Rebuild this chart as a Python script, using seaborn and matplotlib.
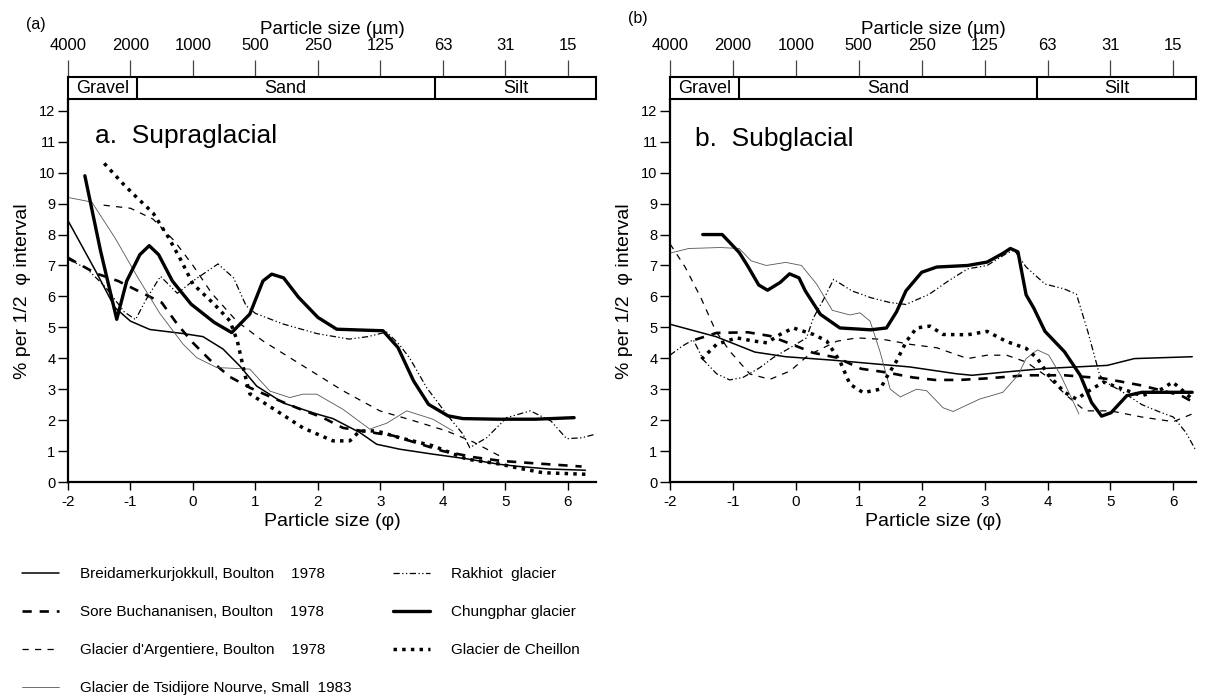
import numpy as np
import pandas as pd
import seaborn as sns
import matplotlib.pyplot as plt

sns.set_style('ticks')
plt.rcParams['font.family'] = ['Liberation Sans', 'DejaVu Sans']
plt.rcParams['axes.unicode_minus'] = False
for key in ['text.color', 'axes.labelcolor', 'xtick.color', 'ytick.color', 'axes.edgecolor']:
    plt.rcParams[key] = 'black'

# ---- shared scales ----
phi_ticks = [-2, -1, 0, 1, 2, 3, 4, 5, 6]
um_labels = ['4000', '2000', '1000', '500', '250', '125', '63', '31', '15']
y_ticks = list(range(0, 13))
classes = ['Gravel', 'Sand', 'Silt']
bounds_a = [-0.9, 3.87]
bounds_b = [-0.91, 3.84]

labels = ['Breidamerkurjokkull, Boulton    1978',
          'Sore Buchananisen, Boulton    1978',
          "Glacier d'Argentiere, Boulton    1978",
          'Glacier de Tsidijore Nourve, Small  1983',
          'Rakhiot  glacier',
          'Chungphar glacier',
          'Glacier de Cheillon']

# ---- (a) supraglacial ----
breida_a_x = [-2.0, -1.56, -1.25, -1.0, -0.69, -0.16, 0.16, 0.48, 0.75, 1.02, 1.45, 1.98, 2.24, 2.67, 2.94, 3.31, 3.84, 4.38, 4.91, 5.23, 5.7, 6.28]
breida_a_y = [8.45, 6.83, 5.64, 5.2, 4.93, 4.8, 4.7, 4.3, 3.75, 3.1, 2.55, 2.2, 2.05, 1.6, 1.22, 1.06, 0.9, 0.75, 0.57, 0.5, 0.42, 0.38]

sore_a_x = [-2.0, -1.56, -1.2, -0.9, -0.5, -0.25, 0.0, 0.27, 0.59, 0.91, 1.3, 1.66, 2.08, 2.4, 2.8, 3.2, 3.6, 4.0, 4.5, 4.94, 5.5, 6.22]
sore_a_y = [7.25, 6.75, 6.5, 6.2, 5.8, 5.1, 4.5, 3.95, 3.4, 3.05, 2.7, 2.4, 2.08, 1.75, 1.62, 1.5, 1.25, 1.0, 0.8, 0.68, 0.6, 0.5]

arg_a_x = [-1.43, -1.0, -0.64, -0.3, 0.0, 0.3, 0.7, 1.12, 1.55, 1.98, 2.4, 2.99, 3.5, 4.06, 4.48, 4.91]
arg_a_y = [8.95, 8.85, 8.5, 7.8, 7.0, 6.1, 5.2, 4.56, 4.02, 3.48, 2.95, 2.3, 2.0, 1.65, 1.3, 0.84]

tsid_a_x = [-2.0, -1.62, -1.25, -0.88, -0.53, -0.16, 0.06, 0.38, 0.91, 1.23, 1.55, 1.76, 1.98, 2.4, 2.83, 3.1, 3.42, 3.84, 4.16]
tsid_a_y = [9.2, 9.05, 7.9, 6.6, 5.45, 4.46, 4.02, 3.7, 3.65, 2.94, 2.73, 2.84, 2.84, 2.35, 1.71, 1.9, 2.3, 2.03, 1.65]

rakh_a_x = [-2.0, -1.7, -1.4, -1.1, -0.92, -0.75, -0.52, -0.25, 0.0, 0.4, 0.65, 0.85, 1.0, 1.44, 1.98, 2.5, 2.8, 3.1, 3.3, 3.47, 3.74, 4.06, 4.32, 4.43, 4.7, 5.02, 5.4, 5.73, 5.98, 6.22, 6.45]
rakh_a_y = [7.2, 6.9, 6.3, 5.5, 5.25, 5.9, 6.65, 6.1, 6.5, 7.05, 6.6, 5.7, 5.45, 5.11, 4.8, 4.62, 4.7, 4.85, 4.45, 4.0, 3.05, 2.19, 1.55, 1.11, 1.43, 2.08, 2.3, 1.97, 1.4, 1.43, 1.55]

chung_a_x = [-1.73, -1.48, -1.22, -1.06, -0.85, -0.7, -0.55, -0.33, -0.03, 0.34, 0.62, 0.91, 1.12, 1.26, 1.45, 1.69, 2.0, 2.3, 2.73, 3.04, 3.28, 3.53, 3.77, 4.08, 4.32, 4.87, 5.48, 6.1]
chung_a_y = [9.9, 7.48, 5.26, 6.5, 7.35, 7.64, 7.35, 6.5, 5.75, 5.16, 4.83, 5.43, 6.5, 6.72, 6.6, 5.97, 5.32, 4.94, 4.91, 4.89, 4.35, 3.27, 2.51, 2.14, 2.05, 2.03, 2.03, 2.08]

cheil_a_x = [-1.42, -1.1, -0.9, -0.64, -0.39, -0.2, 0.0, 0.34, 0.59, 0.71, 0.83, 0.91, 1.34, 1.76, 2.24, 2.51, 2.67, 2.94, 3.31, 3.84, 4.38, 4.91, 5.18, 5.6, 6.28]
cheil_a_y = [10.3, 9.6, 9.2, 8.7, 7.9, 7.2, 6.4, 5.75, 5.21, 4.56, 3.48, 2.85, 2.3, 1.75, 1.33, 1.33, 1.65, 1.65, 1.43, 1.17, 0.74, 0.58, 0.46, 0.3, 0.25]

# ---- (b) subglacial ----
breida_b_x = [-2.0, -1.27, -0.65, -0.16, 0.58, 1.81, 2.55, 2.8, 3.35, 3.96, 4.95, 5.38, 6.3]
breida_b_y = [5.1, 4.7, 4.2, 4.05, 3.94, 3.72, 3.5, 3.45, 3.56, 3.67, 3.77, 3.99, 4.05]

sore_b_x = [-1.6, -1.26, -0.76, -0.41, 0.0, 0.27, 0.65, 1.04, 1.45, 1.86, 2.21, 2.6, 3.04, 3.66, 4.27, 4.89, 5.5, 6.12, 6.3]
sore_b_y = [4.6, 4.82, 4.84, 4.72, 4.4, 4.18, 4.02, 3.66, 3.54, 3.38, 3.3, 3.3, 3.35, 3.45, 3.45, 3.35, 3.12, 2.8, 2.6]

arg_b_x = [-2.0, -1.76, -1.51, -1.27, -1.05, -0.73, -0.41, -0.09, 0.2, 0.65, 0.97, 1.39, 1.82, 2.24, 2.73, 3.04, 3.35, 3.66, 4.0, 4.3, 4.6, 5.0, 5.5, 6.0, 6.3]
arg_b_y = [7.7, 6.95, 5.96, 4.87, 4.23, 3.49, 3.32, 3.59, 4.1, 4.55, 4.66, 4.61, 4.45, 4.34, 3.99, 4.1, 4.1, 3.88, 3.4, 2.8, 2.3, 2.3, 2.1, 1.95, 2.2]

tsid_b_x = [-2.0, -1.7, -1.2, -0.9, -0.71, -0.47, -0.16, 0.09, 0.33, 0.58, 0.86, 1.02, 1.18, 1.34, 1.5, 1.66, 1.92, 2.08, 2.34, 2.5, 2.92, 3.29, 3.53, 3.66, 3.84, 4.02, 4.21, 4.5]
tsid_b_y = [7.4, 7.55, 7.58, 7.55, 7.15, 7.0, 7.1, 7.0, 6.4, 5.55, 5.4, 5.47, 5.2, 4.2, 3.0, 2.75, 3.0, 2.95, 2.4, 2.28, 2.68, 2.9, 3.45, 3.99, 4.27, 4.1, 3.45, 2.2]

rakh_b_x = [-2.0, -1.8, -1.63, -1.47, -1.26, -1.05, -0.84, -0.57, -0.36, -0.09, 0.17, 0.28, 0.44, 0.6, 0.89, 1.19, 1.5, 1.75, 2.12, 2.43, 2.73, 3.04, 3.35, 3.47, 3.66, 3.96, 4.27, 4.46, 4.64, 4.83, 4.95, 5.2, 5.5, 5.8, 6.0, 6.2, 6.35]
rakh_b_y = [4.1, 4.4, 4.6, 3.95, 3.5, 3.3, 3.38, 3.7, 4.02, 4.34, 4.66, 5.31, 5.9, 6.55, 6.18, 5.96, 5.8, 5.74, 6.07, 6.51, 6.89, 7.0, 7.39, 7.5, 6.95, 6.4, 6.24, 6.07, 4.87, 3.45, 3.2, 2.9, 2.5, 2.25, 2.1, 1.6, 1.05]

chung_b_x = [-1.48, -1.17, -0.9, -0.77, -0.59, -0.45, -0.25, -0.1, 0.05, 0.15, 0.39, 0.7, 1.19, 1.44, 1.6, 1.75, 2.0, 2.24, 2.73, 3.04, 3.29, 3.41, 3.53, 3.66, 3.78, 3.96, 4.27, 4.52, 4.7, 4.86, 5.01, 5.26, 5.5, 6.3]
chung_b_y = [8.0, 8.0, 7.42, 7.0, 6.37, 6.2, 6.45, 6.73, 6.6, 6.18, 5.42, 4.98, 4.92, 4.98, 5.5, 6.18, 6.78, 6.95, 7.0, 7.11, 7.39, 7.55, 7.44, 6.05, 5.63, 4.87, 4.21, 3.45, 2.57, 2.13, 2.24, 2.79, 2.9, 2.9]

cheil_b_x = [-1.5, -1.26, -0.94, -0.68, -0.46, -0.25, -0.04, 0.28, 0.49, 0.7, 0.86, 1.07, 1.34, 1.44, 1.6, 1.76, 1.92, 2.13, 2.34, 2.73, 3.04, 3.35, 3.66, 3.84, 4.02, 4.27, 4.46, 4.7, 4.89, 5.2, 5.5, 5.81, 5.99, 6.18, 6.3]
cheil_b_y = [3.97, 4.45, 4.66, 4.56, 4.5, 4.77, 4.98, 4.77, 4.56, 3.91, 3.16, 2.89, 3.0, 3.38, 3.91, 4.56, 4.98, 5.04, 4.77, 4.76, 4.87, 4.54, 4.32, 3.99, 3.45, 2.9, 2.68, 3.0, 3.23, 3.0, 2.79, 3.0, 3.23, 2.9, 2.68]

# line styles for the seven records (same order as labels)
styles = [
    dict(color='black', lw=1.1, ls='-'),
    dict(color='black', lw=1.9, ls=(0, (3.5, 3))),
    dict(color='black', lw=0.9, ls=(0, (5, 5))),
    dict(color='#555555', lw=0.6, ls='-'),
    dict(color='black', lw=0.9, ls=(0, (5, 2, 1, 2, 1, 2))),
    dict(color='black', lw=2.4, ls='-'),
    dict(color='black', lw=2.5, ls=(0, (1.0, 1.5))),
]

series_a = [(breida_a_x, breida_a_y), (sore_a_x, sore_a_y), (arg_a_x, arg_a_y),
            (tsid_a_x, tsid_a_y), (rakh_a_x, rakh_a_y), (chung_a_x, chung_a_y),
            (cheil_a_x, cheil_a_y)]
series_b = [(breida_b_x, breida_b_y), (sore_b_x, sore_b_y), (arg_b_x, arg_b_y),
            (tsid_b_x, tsid_b_y), (rakh_b_x, rakh_b_y), (chung_b_x, chung_b_y),
            (cheil_b_x, cheil_b_y)]

W, H = 1207, 695
fig = plt.figure(figsize=(W / 100, H / 100), dpi=100)


def px_axes(left, right, top, bottom):
    return fig.add_axes([left / W, 1 - bottom / H, (right - left) / W, (bottom - top) / H])


def draw_panel(left, right, x_max, bounds, series, title, tag, tag_y, title_x, title_y, xlabel):
    ax = px_axes(left, right, 100, 482)
    for (xs, ys), lab, st in zip(series, labels, styles):
        df = pd.DataFrame({'phi': xs, 'pct': ys})
        sns.lineplot(data=df, x='phi', y='pct', ax=ax, sort=False, estimator=None,
                     legend=False, label=lab, color=st['color'], linewidth=st['lw'],
                     linestyle=st['ls'])
    ax.set_xlim(-2, x_max)
    ax.set_ylim(0, 12.35)
    ax.set_xticks(phi_ticks)
    ax.set_xticklabels([str(t) for t in phi_ticks])
    ax.set_yticks(y_ticks)
    ax.tick_params(axis='x', length=5.5, width=1, pad=4, labelsize=11)
    ax.tick_params(axis='y', length=7, width=1, pad=2, labelsize=10.5)
    ax.set_xlabel(xlabel, fontsize=14, labelpad=3)
    ax.set_ylabel('% per 1/2  φ interval', fontsize=14, labelpad=6)
    sns.despine(ax=ax)
    for s in ['left', 'bottom']:
        ax.spines[s].set_linewidth(1.6)
    ax.text(title_x, title_y, title, fontsize=19, ha='left', va='center')

    # grain-size class box with micrometre scale on top
    bx = px_axes(left, right, 77, 99)
    bx.set_xlim(-2, x_max)
    bx.set_ylim(0, 1)
    bx.set_yticks([])
    bx.xaxis.tick_top()
    bx.xaxis.set_label_position('top')
    bx.set_xticks(phi_ticks)
    bx.set_xticklabels(um_labels)
    bx.tick_params(axis='x', direction='out', length=12, width=0.9, pad=5,
                   labelsize=12, color='#444444')
    bx.set_xlabel('Particle size (µm)', fontsize=13.5, labelpad=3)
    for s in bx.spines.values():
        s.set_visible(True)
        s.set_linewidth(1.5)
    for b in bounds:
        bx.axvline(b, color='black', lw=1.5)
    edges = [-2] + bounds + [x_max]
    for i, name in enumerate(classes):
        bx.text((edges[i] + edges[i + 1]) / 2, 0.47, name, fontsize=13,
                ha='center', va='center')
    fig.text((left - 32) / W, 1 - tag_y / H, tag, fontsize=11.5, ha='center', va='center')
    return ax


ax_a = draw_panel(68, 596, 6.45, bounds_a, series_a, 'a.  Supraglacial', '(a)', 24,
                  -1.57, 11.2, 'Particle size (φ)')
ax_b = draw_panel(670, 1196, 6.36, bounds_b, series_b, 'b.  Subglacial', '(b)', 19,
                  -1.6, 11.1, 'Particle size (φ)')

# legend below panel a, two columns placed separately
handles, labs = ax_a.get_legend_handles_labels()
common = dict(loc='upper left', frameon=False, borderpad=0, borderaxespad=0,
              fontsize=11, handlelength=2.4, handletextpad=1.4, labelspacing=1.58)
leg1 = fig.legend(handles[:4], labs[:4], bbox_to_anchor=(22 / W, 1 - 567 / H), **common)
leg2 = fig.legend(handles[4:], labs[4:], bbox_to_anchor=(393 / W, 1 - 567 / H), **common)

fig.savefig('out.png', dpi=100)
